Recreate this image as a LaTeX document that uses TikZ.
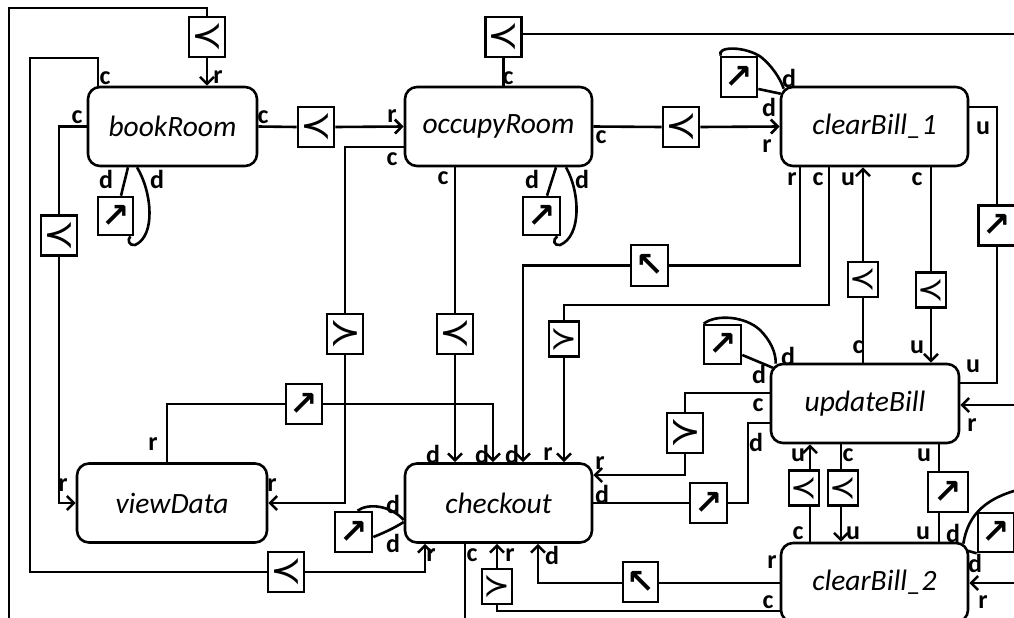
\documentclass[tikz,border=0pt]{standalone}
\usepackage{fontspec}
\setmainfont{Carlito}
\newfontfamily\symfont{DejaVu Sans}
\usetikzlibrary{arrows.meta}
\begin{document}
\begin{tikzpicture}[x=1pt,y=-1pt,line width=2.6pt,
  proc/.style={draw,rounded corners=12pt,minimum width=187pt,minimum height=79pt,inner sep=0pt,font=\fontsize{29.5}{31}\selectfont\itshape},
  sb/.style={draw,minimum width=36pt,minimum height=40pt,inner sep=0pt,font=\symfont\fontsize{38}{38}\selectfont},
  sbs/.style={sb,minimum width=30pt,minimum height=35pt,font=\symfont\fontsize{32}{32}\selectfont},
  ar/.style={font=\symfont\bfseries\fontsize{34}{34}\selectfont},
  lab/.style={font=\bfseries\fontsize{26}{27}\selectfont,inner sep=0pt},
  arr/.style={-{Straight Barb[length=7pt,width=14pt]}}]
\useasboundingbox (0,0) rectangle (1014,618);
\clip (0,0) rectangle (1014,618);
% process nodes
\node[proc,minimum width=169pt] (bookRoom) at (172.5,126.5) {bookRoom};
\node[proc] (occupyRoom) at (498.5,126.5) {occupyRoom};
\node[proc] (clearBill1) at (874.5,126.5) {clearBill{\char`\_}1};
\node[proc,minimum width=188pt] (updateBill) at (865,403.5) {updateBill};
\node[proc] (clearBill2) at (874.5,582.5) {clearBill{\char`\_}2};
\node[proc,minimum width=190pt] (viewData) at (172,503) {viewData};
\node[proc] (checkout) at (498.5,503) {checkout};
% small boxes
\node[sb] (b1) at (207,37) {≺};
\node[sb] (b2) at (316,127) {≺};
\node[sb] (b3) at (59,235.5) {≺};
\node[sb,ar,minimum width=35pt,minimum height=38pt] (b4) at (115.5,216) {↗};
\node[sb] (b5) at (503.5,37) {≺};
\node[sb] (b6) at (681,127) {≺};
\node[sb,ar,minimum width=37pt,minimum height=38pt] (b7) at (541.5,216) {↗};
\node[sb,ar] (b8) at (739,77) {↗};
\node[sb] (b9) at (345,334) {≻};
\node[sb] (b10) at (455,334) {≺};
\node[sb,ar,minimum width=37pt,minimum height=41pt] (b11) at (649.5,265.5) {↖};
\node[sbs] (b12) at (564,339) {≻};
\node[sbs] (b13) at (863,279.5) {≺};
\node[sbs] (b14) at (931,290) {≺};
\node[sb,ar,minimum width=37pt] (b15) at (997,225.5) {↗};
\node[sb,ar] (b16) at (304,404) {↗};
\node[sb] (b17) at (286,572) {≺};
\node[sb,ar,minimum width=37pt] (b18) at (353.5,532) {↗};
\node[sb] (b19) at (685,433) {≻};
\node[sb,ar,minimum width=37pt] (b20) at (708.5,503) {↗};
\node[sb,ar,minimum width=37pt,minimum height=39pt] (b21) at (722.5,344.5) {↗};
\node[sbs] (b22) at (804,488) {≺};
\node[sbs] (b23) at (843,488) {≺};
\node[sb,ar,minimum width=40pt] (b24) at (948,492) {↗};
\node[sb,ar,minimum height=39pt] (b25) at (996,532.5) {↗};
\node[sb,ar,minimum width=35pt] (b26) at (640.5,582) {↖};
\node[sbs] (b27) at (497,586.5) {≻};
% free ends
\coordinate (o1) at (9,630);
\coordinate (o2) at (1020,34);
\coordinate (o3) at (1020,405);
\coordinate (o4) at (1030,487);
\coordinate (o5) at (1020,583);
\coordinate (o6) at (465,630);
% connectors
\draw (b1.north) |- (9,8) -- (o1);
\draw[arr] (b1.south) -- (b1.south |- bookRoom.north);
\draw (bookRoom.north -| 98,0) |- (30,58) -- (30,572) -- (b17.west);
\draw[arr] (b17.east) -| (checkout.south -| 425,0);
\draw (bookRoom.west) -| (b3.north);
\draw[arr] (b3.south) |- (viewData.west);
\draw (bookRoom.east) -- (b2.west);
\draw[arr] (b2.east) -- (occupyRoom.west);
\draw (bookRoom.south -| 128,0) -- (b4.north -| 121,0);
\draw (bookRoom.south -| 137,0) .. controls (152,192) and (156,236) .. (135,245) .. controls (129,246) and (127,240) .. ([shift={(-4,0)}]b4.south east);
\draw (b5.south) -- (b5.south |- occupyRoom.north);
\draw (b5.east |- 0,34) -- (o2);
\draw (occupyRoom.west |- 0,147) -| (b9.north);
\draw[arr] (b9.south) |- (viewData.east);
\draw (occupyRoom.south -| b10) -- (b10.north);
\draw[arr] (b10.south) -- (b10.south |- checkout.north);
\draw (occupyRoom.south -| 556,0) -- (b7.north -| 547,0);
\draw (occupyRoom.south -| 566,0) .. controls (580,192) and (582,236) .. (560,245) .. controls (554,246) and (552,240) .. ([shift={(-4,0)}]b7.south east);
\draw (occupyRoom.east) -- (b6.west);
\draw[arr] (b6.east) -- (clearBill1.west);
\draw (b8.east |- 0,89) -- ([shift={(1,8)}]clearBill1.north west);
\draw ([shift={(1,0)}]b8.north west) .. controls (716,46) and (745,46) .. (761,57) .. controls (772,66) and (780,78) .. ([shift={(4,3)}]clearBill1.north west);
\draw (clearBill1.east |- 0,107) -| (b15.north);
\draw (b15.south) |- (updateBill.east |- 0,383);
\draw (clearBill1.south -| 800,0) |- (b11.east);
\draw[arr] (b11.west) -| (checkout.north -| 523,0);
\draw (clearBill1.south -| 829,0) |- (564,305) -- (b12.north);
\draw[arr] (b12.south) -- (b12.south |- checkout.north);
\draw (updateBill.north -| b13) -- (b13.south);
\draw[arr] (b13.north) -- (b13.north |- clearBill1.south);
\draw (clearBill1.south -| b14) -- (b14.north);
\draw[arr] (b14.south) -- (b14.south |- updateBill.north);
\draw (viewData.north -| 167,0) |- (b16.west);
\draw[arr] (b16.east) -| (checkout.north -| 493,0);
\draw ([shift={(4,0)}]b18.north) .. controls (368,503) and (390,505) .. ([shift={(0,17)}]checkout.west);
\draw ([shift={(0,5)}]b18.east) .. controls (386,532) and (396,527) .. ([shift={(0,19)}]checkout.west);
\draw (updateBill.west |- 0,393) -| (b19.north);
\draw[arr] (b19.south) |- (checkout.east |- 0,475);
\draw (checkout.east) -- (b20.west);
\draw (b20.east) -| (748,423) -- (updateBill.west |- 0,423);
\draw (b21.east |- 0,355) -- ([shift={(3,5)}]updateBill.north west);
\draw ([shift={(1,0)}]b21.north west) .. controls (716,314) and (745,316) .. (760,330) .. controls (770,340) and (776,352) .. ([shift={(6,1)}]updateBill.north west);
\draw[arr] (o3) -- (updateBill.east |- o3);
\draw (clearBill2.north -| 810,0) -- (b22.south -| 810,0);
\draw[arr] (b22.north -| 810,0) -- (updateBill.south -| 810,0);
\draw (updateBill.south -| 841,0) -- (b23.north -| 841,0);
\draw[arr] (b23.south -| 841,0) -- (clearBill2.north -| 841,0);
\draw (updateBill.south -| 939,0) -- (b24.north -| 939,0);
\draw (b24.south -| 939,0) -- (clearBill2.north -| 939,0);
\draw ([shift={(-6,2)}]clearBill2.north east) .. controls (968,515) and (985,496) .. (o4);
\draw (b25.south west) -- ([shift={(-2,9)}]clearBill2.north east);
\draw[arr] (o5) -- (clearBill2.east |- o5);
\draw (clearBill2.west |- 0,583) -- (b26.east |- 0,583);
\draw[arr] (b26.west |- 0,583) -| (checkout.south -| 538,0);
\draw (clearBill2.west |- 0,611) -| (b27.south);
\draw[arr] (b27.north) -- (b27.north |- checkout.south);
\draw (checkout.south -| 465,0) -- (o6);
% labels
\node[lab] (l1) at (105,78) {c};
\node[lab] (l2) at (218,77) {r};
\node[lab] (l3) at (77,117) {c};
\node[lab] (l4) at (263,117) {c};
\node[lab] (l5) at (106,179) {d};
\node[lab] (l6) at (157,179) {d};
\node[lab] (l7) at (392,116) {r};
\node[lab] (l8) at (508,78) {c};
\node[lab] (l9) at (392,159) {c};
\node[lab] (l10) at (601,137) {c};
\node[lab] (l11) at (443,178) {c};
\node[lab] (l12) at (532,179) {d};
\node[lab] (l13) at (582,179) {d};
\node[lab] (l14) at (789,78) {d};
\node[lab] (l15) at (769,107) {d};
\node[lab] (l16) at (767,146) {r};
\node[lab] (l17) at (983,128) {u};
\node[lab] (l18) at (792,179) {r};
\node[lab] (l19) at (818,179) {c};
\node[lab] (l20) at (848,179) {u};
\node[lab] (l21) at (917,179) {c};
\node[lab] (l22) at (858,347) {c};
\node[lab] (l23) at (917,347) {u};
\node[lab] (l24) at (788,356) {d};
\node[lab] (l25) at (759,374) {d};
\node[lab] (l26) at (973,366) {u};
\node[lab] (l27) at (758,405) {c};
\node[lab] (l28) at (756,442) {d};
\node[lab] (l29) at (972,425) {r};
\node[lab] (l30) at (798,455) {u};
\node[lab] (l31) at (848,455) {c};
\node[lab] (l32) at (924,455) {u};
\node[lab] (l33) at (798,533) {c};
\node[lab] (l34) at (853,533) {u};
\node[lab] (l35) at (923,533) {u};
\node[lab] (l36) at (953,533) {d};
\node[lab] (l37) at (975,563) {d};
\node[lab] (l38) at (772,562) {r};
\node[lab] (l39) at (768,602) {c};
\node[lab] (l40) at (983,602) {r};
\node[lab] (l41) at (153,444) {r};
\node[lab] (l42) at (63,485) {r};
\node[lab] (l43) at (272,485) {r};
\node[lab] (l44) at (433,454) {d};
\node[lab] (l45) at (482,454) {d};
\node[lab] (l46) at (512,454) {d};
\node[lab] (l47) at (548,454) {r};
\node[lab] (l48) at (600,463) {r};
\node[lab] (l49) at (602,494) {d};
\node[lab] (l50) at (393,504) {d};
\node[lab] (l51) at (393,543) {d};
\node[lab] (l52) at (431,555) {r};
\node[lab] (l53) at (472,555) {c};
\node[lab] (l54) at (510,555) {r};
\node[lab] (l55) at (552,555) {d};
\end{tikzpicture}
\end{document}
